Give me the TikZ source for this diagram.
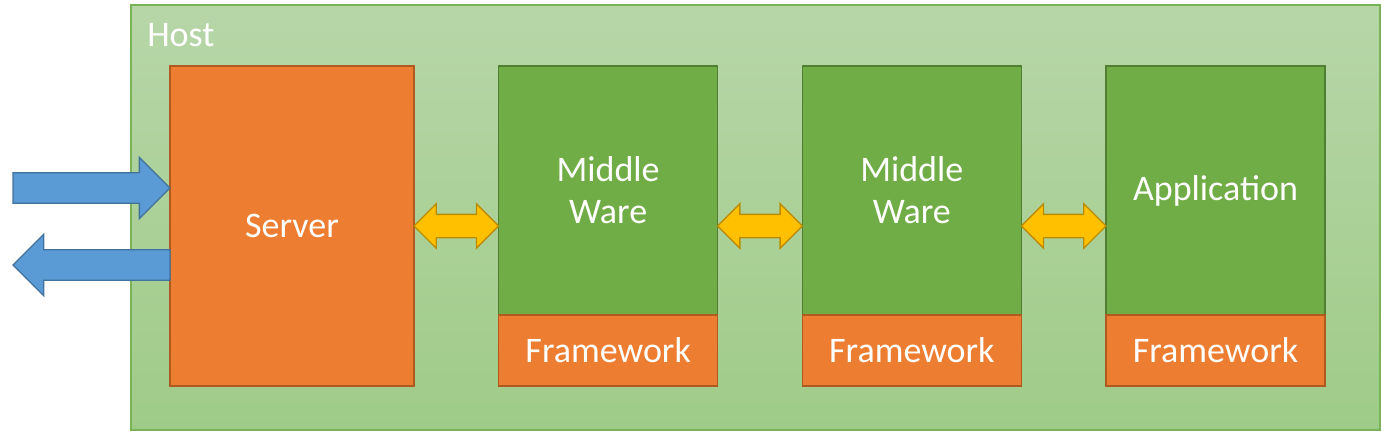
\documentclass[tikz,border=0pt]{standalone}
\usepackage{fontspec}
\setmainfont{Carlito}
\usetikzlibrary{positioning,calc,shapes.arrows}
\definecolor{hosttop}{RGB}{183,214,168}
\definecolor{hostbot}{RGB}{159,203,136}
\definecolor{hostline}{HTML}{7AB356}
\definecolor{orangefill}{HTML}{ED7D31}
\definecolor{orangeline}{HTML}{AE5A21}
\definecolor{greenfill}{HTML}{70AD47}
\definecolor{greenline}{HTML}{507E32}
\definecolor{yellowfill}{HTML}{FFC000}
\definecolor{yellowline}{HTML}{BC8C00}
\definecolor{bluefill}{HTML}{5B9BD5}
\definecolor{blueline}{HTML}{41719C}
\tikzset{
	label text/.style={text=white, font=\fontsize{27}{31.5}\selectfont},
	orange box/.style={label text, draw=orangeline, fill=orangefill, line width=1.1pt,
		inner sep=0pt, outer sep=0pt, align=center},
	green box/.style={label text, draw=greenline, fill=greenfill, line width=1.1pt,
		inner sep=0pt, outer sep=0pt, align=center,
		minimum width=164.25pt, minimum height=186.75pt},
	frame box/.style={orange box, minimum width=164.25pt, minimum height=53.25pt},
	link arrow/.style={double arrow, draw=yellowline, fill=yellowfill, line width=1pt,
		inner xsep=0pt, inner ysep=8.25pt, double arrow head extend=7.9pt,
		double arrow tip angle=90, minimum height=63.5pt, outer sep=0pt},
	io arrow/.style={single arrow, draw=blueline, fill=bluefill, line width=1pt,
		inner xsep=0pt, inner ysep=10.9pt, single arrow head extend=11.6pt,
		single arrow tip angle=90, minimum height=117.75pt, outer sep=0pt}
}
\begin{document}
\begin{tikzpicture}[x=0.75pt, y=-0.75pt]
\useasboundingbox (0,0) rectangle (1381,431);

% host
\node[draw=hostline, top color=hosttop, bottom color=hostbot, line width=1pt,
	minimum width=936.75pt, minimum height=318.75pt, anchor=north west,
	inner sep=0pt, outer sep=0pt] (host) at (131,5) {};
\node[label text, anchor=base west, inner sep=0pt] (hostlabel) at (147,47) {Host};

% server and stack
\node[orange box, minimum width=183pt, minimum height=240pt, anchor=north west]
	(server) at (170,66) {Server};
\node[green box, right=63.5pt of server.north east, anchor=north west] (mw1) {Middle\\Ware};
\node[frame box, below=0pt of mw1] (fw1) {Framework};
\node[green box, right=63.5pt of mw1.north east, anchor=north west] (mw2) {Middle\\Ware};
\node[frame box, below=0pt of mw2] (fw2) {Framework};
\node[green box, right=63.5pt of mw2.north east, anchor=north west] (app) {Application};
\node[frame box, below=0pt of app] (fw3) {Framework};

% links
\node[link arrow] (l1) at ($(server.east)!0.5!(mw1.west |- server.east)$) {};
\node[link arrow] (l2) at ($(mw1.east |- server.east)!0.5!(mw2.west |- server.east)$) {};
\node[link arrow] (l3) at ($(mw2.east |- server.east)!0.5!(app.west |- server.east)$) {};

% in and out
\node[io arrow, anchor=tip] (request) at ([yshift=28.5pt]server.west) {};
\node[io arrow, shape border rotate=180, anchor=tail] (response) at ([yshift=-29.25pt]server.west) {};
\end{tikzpicture}
\end{document}
